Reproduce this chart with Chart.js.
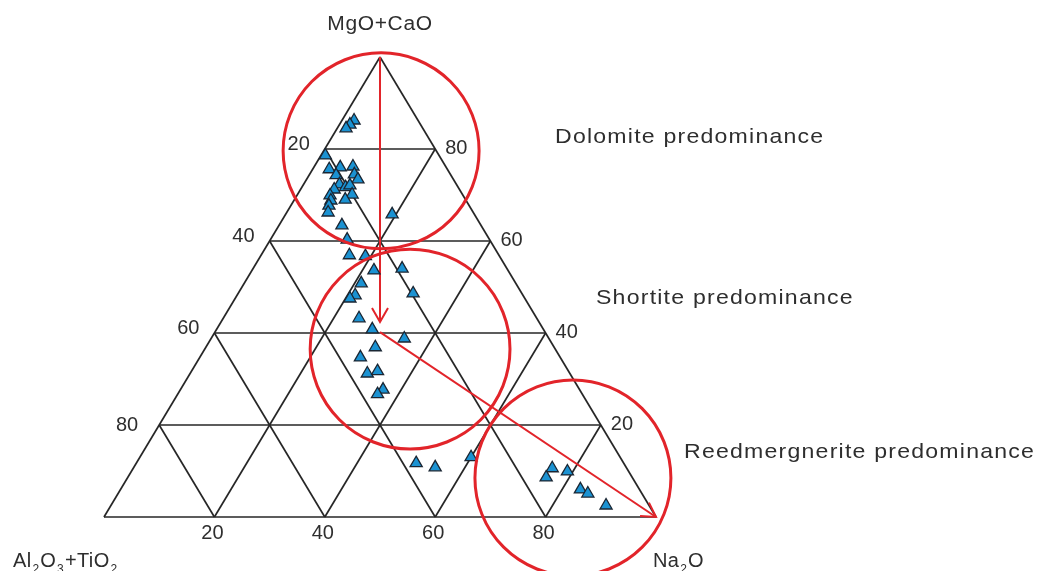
<!DOCTYPE html>
<html>
<head>
<meta charset="utf-8">
<script src="https://cdn.jsdelivr.net/npm/chart.js@4.4.1/dist/chart.umd.min.js"></script>
<style>
  html, body { margin: 0; padding: 0; background: #fff; }
  #wrap { width: 1040px; height: 571px; position: relative; }
</style>
</head>
<body>
<div id="wrap"><canvas id="ternary"></canvas></div>
<script>
// Ternary plot Na2O - (MgO+CaO) - (Al2O3+TiO2), normalised to 100 %
const gridTicks = [20, 40, 60, 80];

// Sample compositions; Al2O3+TiO2 is the remainder to 100
const na2o = [
  2.2, 1.9, 1.6, 0.8, 3.0, 4.8, 7.0, 4.9, 8.1, 9.3,
  6.5, 7.9, 8.5, 6.1, 9.9, 9.2, 6.0, 6.7, 6.9, 7.5,
  19.3, 11.4, 13.9, 16.0, 19.0, 22.1, 27.0, 21.2, 21.4, 20.8,
  31.7, 24.6, 28.2, 35.0, 30.7, 29.1, 32.1, 33.7, 36.7, 36.2,
  50.7, 54.6, 60.0, 75.9, 75.8, 79.0, 83.3, 85.1, 89.7
];
const mgoCao = [
  86.2, 85.3, 84.5, 78.6, 75.6, 76.0, 76.2, 74.3, 74.5, 73.4,
  72.3, 71.7, 72.1, 71.2, 70.1, 69.0, 69.9, 68.8, 67.7, 66.2,
  65.8, 63.4, 60.3, 56.9, 56.7, 53.6, 54.0, 50.8, 48.2, 47.5,
  48.6, 43.2, 40.8, 38.8, 36.9, 34.7, 31.2, 31.7, 27.7, 26.7,
  11.7, 10.8, 13.0, 10.6, 8.6, 9.9, 6.0, 5.1, 2.5
];

// Evolution arrows, [Na2O, MgO+CaO] at start and end
const arrowStarts = [[0, 100], [29.9, 40.2]];
const arrowEnds = [[28.8, 42.4], [100, 0]];

// Mineral fields: centre [Na2O, MgO+CaO], radius in % of the base edge
const fieldCentres = [[10.4, 79.6], [37.2, 36.5], [80.7, 8.5]];
const fieldRadii = [17.75, 18.1, 17.75];
const fieldNames = ['Dolomite predominance', 'Shortite predominance', 'Reedmergnerite predominance'];

const INK = '#262626';
const RED = '#e2242a';
const FONT = '"Liberation Sans", Arial, sans-serif';

// composition -> cartesian (base 0..100, apex at x=50, y=100)
function toXY(na, mg) {
  return { x: na + mg / 2, y: mg };
}

function lineSet(a, b, color, width) {
  return {
    type: 'scatter',
    data: [toXY(a[0], a[1]), toXY(b[0], b[1])],
    showLine: true,
    borderColor: color,
    borderWidth: width,
    pointRadius: 0,
    clip: false
  };
}

const datasets = [];

datasets.push({
  type: 'scatter',
  data: na2o.map((n, i) => toXY(n, mgoCao[i])),
  pointStyle: 'triangle',
  pointRadius: 7,
  backgroundColor: '#1b92d2',
  borderColor: '#1a2633',
  borderWidth: 1.3,
  clip: false
});

arrowStarts.forEach((s, i) => datasets.push(lineSet(s, arrowEnds[i], RED, 2)));

// outline
datasets.push(lineSet([0, 0], [100, 0], INK, 1.7));
datasets.push(lineSet([100, 0], [0, 100], INK, 1.7));
datasets.push(lineSet([0, 100], [0, 0], INK, 1.7));

// internal grid, one line per component and tick
gridTicks.forEach(t => {
  datasets.push(lineSet([0, t], [100 - t, t], INK, 1.7));
  datasets.push(lineSet([t, 0], [t, 100 - t], INK, 1.7));
  datasets.push(lineSet([100 - t, 0], [0, 100 - t], INK, 1.7));
});

function drawRich(ctx, parts, x, y, size) {
  let cx = x;
  parts.forEach(([txt, sub]) => {
    ctx.font = (sub ? Math.round(size * 0.6) : size) + 'px ' + FONT;
    ctx.fillText(txt, cx, sub ? y + 6 : y);
    cx += ctx.measureText(txt).width + 0.8;
  });
}

function drawWide(ctx, txt, x, y, stretch) {
  ctx.save();
  ctx.translate(x, y);
  ctx.scale(stretch, 1);
  ctx.fillText(txt, 0, 0);
  ctx.restore();
}

const ternaryDecor = {
  id: 'ternaryDecor',
  afterDatasetsDraw(chart) {
    const { ctx, scales: { x, y } } = chart;
    const px = (na, mg) => {
      const p = toXY(na, mg);
      return [x.getPixelForValue(p.x), y.getPixelForValue(p.y)];
    };
    const unit = (x.getPixelForValue(100) - x.getPixelForValue(0)) / 100;

    ctx.save();

    // arrow heads
    ctx.strokeStyle = RED;
    ctx.lineWidth = 2;
    arrowEnds.forEach((e, i) => {
      const [x1, y1] = px(arrowStarts[i][0], arrowStarts[i][1]);
      const [x2, y2] = px(e[0], e[1]);
      const a = Math.atan2(y2 - y1, x2 - x1);
      const len = 16, spread = Math.PI / 6;
      ctx.beginPath();
      ctx.moveTo(x2 - len * Math.cos(a - spread), y2 - len * Math.sin(a - spread));
      ctx.lineTo(x2, y2);
      ctx.lineTo(x2 - len * Math.cos(a + spread), y2 - len * Math.sin(a + spread));
      ctx.stroke();
    });

    // field circles
    ctx.lineWidth = 3;
    fieldCentres.forEach((c, i) => {
      const [cx, cy] = px(c[0], c[1]);
      ctx.beginPath();
      ctx.arc(cx, cy, fieldRadii[i] * unit, 0, Math.PI * 2);
      ctx.stroke();
    });

    // tick labels
    ctx.fillStyle = '#2e2e2e';
    ctx.font = '20px ' + FONT;
    ctx.textBaseline = 'middle';
    gridTicks.forEach(t => {
      const [bx, by] = px(t, 0);
      ctx.textAlign = 'center';
      ctx.fillText(String(t), bx - 2, by + 16);

      const [lx, ly] = px(0, 100 - t);
      ctx.textAlign = 'right';
      ctx.fillText(String(t), lx - (t === 80 ? 21 : 15), ly - (t === 80 ? 0 : 5));

      const [rx, ry] = px(100 - t, t);
      ctx.textAlign = 'left';
      ctx.fillText(String(t), rx + 10, ry - 1);
    });

    // field names
    ctx.textBaseline = 'alphabetic';
    ctx.textAlign = 'left';
    ctx.font = '21px ' + FONT;
    if ('letterSpacing' in ctx) ctx.letterSpacing = '1.1px';
    const namePos = [[555, 143], [596, 304], [684, 458]];
    fieldNames.forEach((n, i) => drawWide(ctx, n, namePos[i][0], namePos[i][1], 1.1));

    // apex labels
    if ('letterSpacing' in ctx) ctx.letterSpacing = '0.6px';
    ctx.textAlign = 'center';
    ctx.font = '20px ' + FONT;
    const [tx] = px(0, 100);
    drawWide(ctx, 'MgO+CaO', tx, 30, 1.05);

    ctx.textAlign = 'left';
    if ('letterSpacing' in ctx) ctx.letterSpacing = '0.4px';
    drawRich(ctx, [['Al', false], ['2', true], ['O', false], ['3', true], ['+TiO', false], ['2', true]], 13, 567, 20);
    drawRich(ctx, [['Na', false], ['2', true], ['O', false]], 653, 567, 20);

    ctx.restore();
  }
};

new Chart(document.getElementById('ternary'), {
  type: 'scatter',
  data: { datasets: datasets },
  options: {
    responsive: true,
    maintainAspectRatio: false,
    animation: false,
    events: [],
    layout: { padding: { left: 104, right: 384, top: 57, bottom: 54 } },
    plugins: {
      legend: { display: false },
      tooltip: { enabled: false }
    },
    scales: {
      x: { type: 'linear', min: 0, max: 100, display: false },
      y: { type: 'linear', min: 0, max: 100, display: false }
    }
  },
  plugins: [ternaryDecor]
});
</script>
</body>
</html>
